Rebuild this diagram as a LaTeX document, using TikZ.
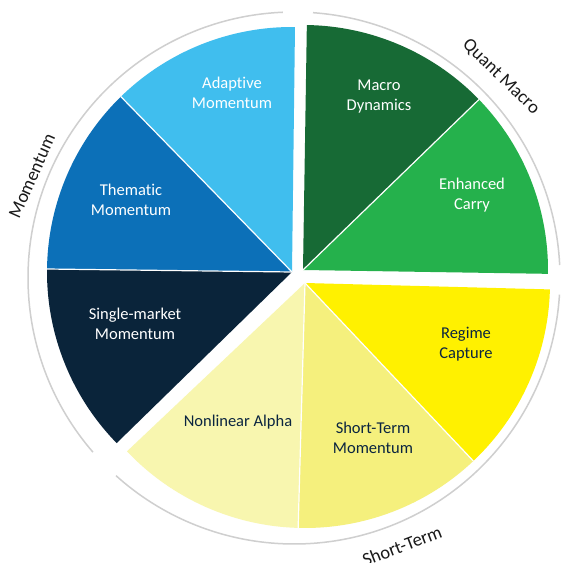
\documentclass[tikz,border=0pt]{standalone}
\usepackage{fontspec}
\setmainfont{Carlito}[Ligatures={NoCommon}]
\definecolor{cAdaptive}{HTML}{40BEEE}
\definecolor{cThematic}{HTML}{0C70B8}
\definecolor{cSingle}{HTML}{0A243A}
\definecolor{cMacro}{HTML}{176A35}
\definecolor{cCarry}{HTML}{25B14C}
\definecolor{cRegime}{HTML}{FFF100}
\definecolor{cShort}{HTML}{F5F07D}
\definecolor{cNonlin}{HTML}{F8F6AF}
\definecolor{darktext}{HTML}{0B2540}
\definecolor{arctext}{HTML}{1A1A1A}
\definecolor{arcgray}{HTML}{CFCFCF}
\begin{document}
\begin{tikzpicture}[x=1pt,y=1pt,
  lbl/.style={align=center, font=\fontsize{16.5}{20}\selectfont, inner sep=0pt},
  arclbl/.style={font=\fontsize{18.5}{22}\selectfont, text=arctext, inner sep=0pt},
  sep/.style={draw=white, line width=1.2pt},
  grouparc/.style={draw=arcgray, line width=1.5pt}]
\useasboundingbox (0,0) rectangle (561,563);
\fill[white] (0,0) rectangle (561,563);
% centres
\coordinate (M0) at (292,291);
\coordinate (Q0) at (303,293);
\coordinate (S0) at (305,280);
\coordinate (C) at (294,285);
\def\R{245}
% Momentum group
\fill[cAdaptive] (M0) -- ++(89.3:\R) arc[start angle=89.3, end angle=134.3, radius=\R] -- cycle;
\fill[cThematic] (M0) -- ++(134.3:\R) arc[start angle=134.3, end angle=179.3, radius=\R] -- cycle;
\fill[cSingle] (M0) -- ++(179.3:\R) arc[start angle=179.3, end angle=224.3, radius=\R] -- cycle;
\draw[sep] (M0) -- ++(134.3:\R);
\draw[sep] (M0) -- ++(179.3:\R);
% Quant Macro group
\fill[cMacro] (Q0) -- ++(44.1:\R) arc[start angle=44.1, end angle=89.1, radius=\R] -- cycle;
\fill[cCarry] (Q0) -- ++(-0.9:\R) arc[start angle=-0.9, end angle=44.1, radius=\R] -- cycle;
\draw[sep] (Q0) -- ++(44.1:\R);
% Short-Term group
\fill[cRegime] (S0) -- ++(-46.6:\R) arc[start angle=-46.6, end angle=-1.5, radius=\R] -- cycle;
\fill[cShort] (S0) -- ++(-91.6:\R) arc[start angle=-91.6, end angle=-46.6, radius=\R] -- cycle;
\fill[cNonlin] (S0) -- ++(-136.6:\R) arc[start angle=-136.6, end angle=-91.6, radius=\R] -- cycle;
\draw[sep] (S0) -- ++(-46.6:\R);
\draw[sep] (S0) -- ++(-91.6:\R);
% group arcs
\draw[grouparc] (C) ++(92.4:266) arc[start angle=92.4, end angle=220.9, radius=266];
\draw[grouparc] (C) ++(85.9:266) arc[start angle=85.9, end angle=2.8, radius=266];
\draw[grouparc] (C) ++(-3.6:266) arc[start angle=-3.6, end angle=-132, radius=266];
% wedge labels
\node[lbl, text=white] (adaptive) at (232,470) {Adaptive\\Momentum};
\node[lbl, text=white] (thematic) at (131,363) {Thematic\\Momentum};
\node[lbl, text=white] (single) at (135,239) {Single-market\\Momentum};
\node[lbl, text=white] (macro) at (379,466) {Macro\\Dynamics};
\node[lbl, text=white] (carry) at (472,368) {Enhanced\\Carry};
\node[lbl, text=darktext] (regime) at (466,219) {Regime\\Capture};
\node[lbl, text=darktext] (shortmom) at (373,125) {Short-Term\\Momentum};
\node[lbl, text=darktext] (nonlin) at (238,141) {Nonlinear Alpha};
% group labels
\node[arclbl, rotate=66] (momlbl) at (32,387) {Momentum};
\node[arclbl, rotate=-44] (qmlbl) at (501,486) {Quant Macro};
\node[arclbl, rotate=21] (stlbl) at (402,17) {Short-Term};
\end{tikzpicture}
\end{document}
